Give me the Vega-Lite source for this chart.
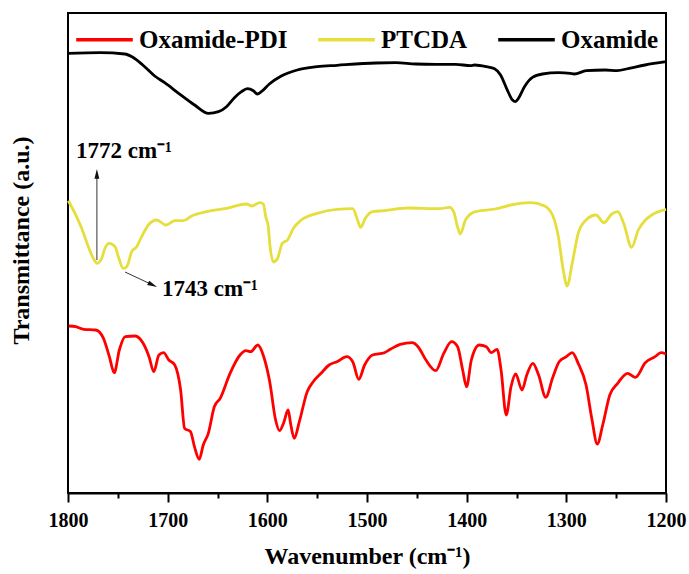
{
  "$schema": "https://vega.github.io/schema/vega-lite/v6.json",
  "width": 598,
  "height": 480,
  "autosize": {"type": "none"},
  "padding": {"left": 68, "top": 13, "right": 23, "bottom": 81},
  "config": {
    "view": {"stroke": "black", "strokeWidth": 2},
    "font": "Liberation Serif"
  },
  "datasets": {
    "spectra": [
      {"series": "Oxamide", "wn": 1800, "t": 439.7},
      {"series": "Oxamide", "wn": 1768, "t": 440.3},
      {"series": "Oxamide", "wn": 1743, "t": 439},
      {"series": "Oxamide", "wn": 1735, "t": 435.7},
      {"series": "Oxamide", "wn": 1725, "t": 428},
      {"series": "Oxamide", "wn": 1713, "t": 417},
      {"series": "Oxamide", "wn": 1703, "t": 410.3},
      {"series": "Oxamide", "wn": 1689, "t": 399.7},
      {"series": "Oxamide", "wn": 1673, "t": 388},
      {"series": "Oxamide", "wn": 1659, "t": 379.7},
      {"series": "Oxamide", "wn": 1649, "t": 381.3},
      {"series": "Oxamide", "wn": 1641, "t": 386.3},
      {"series": "Oxamide", "wn": 1633, "t": 395.3},
      {"series": "Oxamide", "wn": 1626, "t": 401.3},
      {"series": "Oxamide", "wn": 1620, "t": 404.3},
      {"series": "Oxamide", "wn": 1614, "t": 402.3},
      {"series": "Oxamide", "wn": 1610, "t": 399},
      {"series": "Oxamide", "wn": 1606, "t": 401.3},
      {"series": "Oxamide", "wn": 1598, "t": 409},
      {"series": "Oxamide", "wn": 1586, "t": 417},
      {"series": "Oxamide", "wn": 1570, "t": 423},
      {"series": "Oxamide", "wn": 1550, "t": 426.3},
      {"series": "Oxamide", "wn": 1530, "t": 427.7},
      {"series": "Oxamide", "wn": 1491, "t": 430},
      {"series": "Oxamide", "wn": 1471, "t": 430.3},
      {"series": "Oxamide", "wn": 1451, "t": 429},
      {"series": "Oxamide", "wn": 1431, "t": 428.7},
      {"series": "Oxamide", "wn": 1411, "t": 428.7},
      {"series": "Oxamide", "wn": 1396, "t": 427.3},
      {"series": "Oxamide", "wn": 1392, "t": 428},
      {"series": "Oxamide", "wn": 1380, "t": 426.3},
      {"series": "Oxamide", "wn": 1372, "t": 424.3},
      {"series": "Oxamide", "wn": 1366, "t": 418},
      {"series": "Oxamide", "wn": 1360, "t": 404.7},
      {"series": "Oxamide", "wn": 1354, "t": 393},
      {"series": "Oxamide", "wn": 1351, "t": 391.3},
      {"series": "Oxamide", "wn": 1348, "t": 394.7},
      {"series": "Oxamide", "wn": 1342, "t": 406.3},
      {"series": "Oxamide", "wn": 1334, "t": 415.7},
      {"series": "Oxamide", "wn": 1324, "t": 419},
      {"series": "Oxamide", "wn": 1308, "t": 420.3},
      {"series": "Oxamide", "wn": 1296, "t": 419.7},
      {"series": "Oxamide", "wn": 1292, "t": 419},
      {"series": "Oxamide", "wn": 1280, "t": 422.3},
      {"series": "Oxamide", "wn": 1261, "t": 423},
      {"series": "Oxamide", "wn": 1249, "t": 422.3},
      {"series": "Oxamide", "wn": 1237, "t": 424.7},
      {"series": "Oxamide", "wn": 1221, "t": 428},
      {"series": "Oxamide", "wn": 1200, "t": 431.3},

      {"series": "PTCDA", "wn": 1799.7, "t": 292.3},
      {"series": "PTCDA", "wn": 1793, "t": 279.7},
      {"series": "PTCDA", "wn": 1786.3, "t": 264.7},
      {"series": "PTCDA", "wn": 1779.6, "t": 246.3},
      {"series": "PTCDA", "wn": 1774.6, "t": 234.7},
      {"series": "PTCDA", "wn": 1770.6, "t": 229.7},
      {"series": "PTCDA", "wn": 1766.2, "t": 234.7},
      {"series": "PTCDA", "wn": 1762.9, "t": 244.7},
      {"series": "PTCDA", "wn": 1758.6, "t": 249.7},
      {"series": "PTCDA", "wn": 1752.8, "t": 246.3},
      {"series": "PTCDA", "wn": 1749.5, "t": 236.3},
      {"series": "PTCDA", "wn": 1744.5, "t": 224.7},
      {"series": "PTCDA", "wn": 1741.1, "t": 226.3},
      {"series": "PTCDA", "wn": 1736.1, "t": 241.3},
      {"series": "PTCDA", "wn": 1731.1, "t": 246.3},
      {"series": "PTCDA", "wn": 1726.1, "t": 256.3},
      {"series": "PTCDA", "wn": 1719.4, "t": 268},
      {"series": "PTCDA", "wn": 1711, "t": 273},
      {"series": "PTCDA", "wn": 1701.7, "t": 268},
      {"series": "PTCDA", "wn": 1692.6, "t": 272.3},
      {"series": "PTCDA", "wn": 1684.3, "t": 272.3},
      {"series": "PTCDA", "wn": 1675.9, "t": 277},
      {"series": "PTCDA", "wn": 1660.8, "t": 281.3},
      {"series": "PTCDA", "wn": 1640.8, "t": 284.7},
      {"series": "PTCDA", "wn": 1620.7, "t": 289},
      {"series": "PTCDA", "wn": 1615.7, "t": 287},
      {"series": "PTCDA", "wn": 1607.4, "t": 290.3},
      {"series": "PTCDA", "wn": 1604, "t": 289},
      {"series": "PTCDA", "wn": 1601.6, "t": 276.3},
      {"series": "PTCDA", "wn": 1599, "t": 266.3},
      {"series": "PTCDA", "wn": 1597.6, "t": 249.7},
      {"series": "PTCDA", "wn": 1593.8, "t": 231},
      {"series": "PTCDA", "wn": 1589.7, "t": 234.7},
      {"series": "PTCDA", "wn": 1585, "t": 249.7},
      {"series": "PTCDA", "wn": 1579.8, "t": 253},
      {"series": "PTCDA", "wn": 1573.8, "t": 264.7},
      {"series": "PTCDA", "wn": 1565.9, "t": 273},
      {"series": "PTCDA", "wn": 1550.1, "t": 279.7},
      {"series": "PTCDA", "wn": 1530.2, "t": 283.7},
      {"series": "PTCDA", "wn": 1514.3, "t": 284.3},
      {"series": "PTCDA", "wn": 1509.5, "t": 273},
      {"series": "PTCDA", "wn": 1506.4, "t": 265.7},
      {"series": "PTCDA", "wn": 1501.6, "t": 274.7},
      {"series": "PTCDA", "wn": 1494.5, "t": 281.3},
      {"series": "PTCDA", "wn": 1482.5, "t": 282.3},
      {"series": "PTCDA", "wn": 1458.8, "t": 285},
      {"series": "PTCDA", "wn": 1427, "t": 284.3},
      {"series": "PTCDA", "wn": 1417.1, "t": 285.7},
      {"series": "PTCDA", "wn": 1413.1, "t": 281.3},
      {"series": "PTCDA", "wn": 1409.2, "t": 266.3},
      {"series": "PTCDA", "wn": 1406.4, "t": 259},
      {"series": "PTCDA", "wn": 1401.2, "t": 273},
      {"series": "PTCDA", "wn": 1391.3, "t": 281.3},
      {"series": "PTCDA", "wn": 1371.5, "t": 284},
      {"series": "PTCDA", "wn": 1355.5, "t": 288},
      {"series": "PTCDA", "wn": 1335.8, "t": 290.3},
      {"series": "PTCDA", "wn": 1321.8, "t": 287},
      {"series": "PTCDA", "wn": 1313.9, "t": 278},
      {"series": "PTCDA", "wn": 1308, "t": 256.3},
      {"series": "PTCDA", "wn": 1303.1, "t": 223},
      {"series": "PTCDA", "wn": 1299.2, "t": 207},
      {"series": "PTCDA", "wn": 1294.1, "t": 229.7},
      {"series": "PTCDA", "wn": 1288.1, "t": 259.7},
      {"series": "PTCDA", "wn": 1280.2, "t": 273},
      {"series": "PTCDA", "wn": 1270.2, "t": 278},
      {"series": "PTCDA", "wn": 1262.3, "t": 270.3},
      {"series": "PTCDA", "wn": 1254.4, "t": 279},
      {"series": "PTCDA", "wn": 1248.5, "t": 281.3},
      {"series": "PTCDA", "wn": 1242.5, "t": 269.7},
      {"series": "PTCDA", "wn": 1234.5, "t": 245.7},
      {"series": "PTCDA", "wn": 1227.8, "t": 263},
      {"series": "PTCDA", "wn": 1220.7, "t": 273},
      {"series": "PTCDA", "wn": 1212.7, "t": 279},
      {"series": "PTCDA", "wn": 1200, "t": 283.7},

      {"series": "Oxamide-PDI", "wn": 1799.3, "t": 167},
      {"series": "Oxamide-PDI", "wn": 1792.2, "t": 166.3},
      {"series": "Oxamide-PDI", "wn": 1784.2, "t": 163.7},
      {"series": "Oxamide-PDI", "wn": 1772.3, "t": 163},
      {"series": "Oxamide-PDI", "wn": 1764.4, "t": 154.7},
      {"series": "Oxamide-PDI", "wn": 1758.5, "t": 136.3},
      {"series": "Oxamide-PDI", "wn": 1753.6, "t": 120.3},
      {"series": "Oxamide-PDI", "wn": 1748.5, "t": 143},
      {"series": "Oxamide-PDI", "wn": 1742.5, "t": 156.3},
      {"series": "Oxamide-PDI", "wn": 1732.6, "t": 157},
      {"series": "Oxamide-PDI", "wn": 1724.6, "t": 149.7},
      {"series": "Oxamide-PDI", "wn": 1718.7, "t": 136.3},
      {"series": "Oxamide-PDI", "wn": 1713.9, "t": 121.3},
      {"series": "Oxamide-PDI", "wn": 1708.8, "t": 138},
      {"series": "Oxamide-PDI", "wn": 1704.1, "t": 140.3},
      {"series": "Oxamide-PDI", "wn": 1698.9, "t": 133},
      {"series": "Oxamide-PDI", "wn": 1692.9, "t": 128},
      {"series": "Oxamide-PDI", "wn": 1687, "t": 103},
      {"series": "Oxamide-PDI", "wn": 1683, "t": 64.7},
      {"series": "Oxamide-PDI", "wn": 1677.1, "t": 61.3},
      {"series": "Oxamide-PDI", "wn": 1673.1, "t": 46.3},
      {"series": "Oxamide-PDI", "wn": 1668.4, "t": 33.7},
      {"series": "Oxamide-PDI", "wn": 1664.3, "t": 48},
      {"series": "Oxamide-PDI", "wn": 1659.2, "t": 59.7},
      {"series": "Oxamide-PDI", "wn": 1653.2, "t": 86.3},
      {"series": "Oxamide-PDI", "wn": 1647.3, "t": 94.7},
      {"series": "Oxamide-PDI", "wn": 1637.4, "t": 119.7},
      {"series": "Oxamide-PDI", "wn": 1627.4, "t": 138},
      {"series": "Oxamide-PDI", "wn": 1621.5, "t": 142.3},
      {"series": "Oxamide-PDI", "wn": 1616.7, "t": 141.3},
      {"series": "Oxamide-PDI", "wn": 1609.6, "t": 148},
      {"series": "Oxamide-PDI", "wn": 1603.6, "t": 136.3},
      {"series": "Oxamide-PDI", "wn": 1597.6, "t": 111.3},
      {"series": "Oxamide-PDI", "wn": 1591.7, "t": 73},
      {"series": "Oxamide-PDI", "wn": 1587.8, "t": 62.3},
      {"series": "Oxamide-PDI", "wn": 1583.8, "t": 69.7},
      {"series": "Oxamide-PDI", "wn": 1579.1, "t": 83},
      {"series": "Oxamide-PDI", "wn": 1576.7, "t": 69.7},
      {"series": "Oxamide-PDI", "wn": 1573, "t": 54.7},
      {"series": "Oxamide-PDI", "wn": 1567.9, "t": 71.3},
      {"series": "Oxamide-PDI", "wn": 1560, "t": 101.3},
      {"series": "Oxamide-PDI", "wn": 1554, "t": 111.3},
      {"series": "Oxamide-PDI", "wn": 1546.1, "t": 119.7},
      {"series": "Oxamide-PDI", "wn": 1538.1, "t": 128},
      {"series": "Oxamide-PDI", "wn": 1530.2, "t": 131.3},
      {"series": "Oxamide-PDI", "wn": 1520.3, "t": 136.3},
      {"series": "Oxamide-PDI", "wn": 1514.3, "t": 131.3},
      {"series": "Oxamide-PDI", "wn": 1508.3, "t": 113.7},
      {"series": "Oxamide-PDI", "wn": 1502.4, "t": 128},
      {"series": "Oxamide-PDI", "wn": 1494.5, "t": 138},
      {"series": "Oxamide-PDI", "wn": 1482.5, "t": 140.3},
      {"series": "Oxamide-PDI", "wn": 1476.6, "t": 143.7},
      {"series": "Oxamide-PDI", "wn": 1466.7, "t": 148.7},
      {"series": "Oxamide-PDI", "wn": 1454.7, "t": 150.3},
      {"series": "Oxamide-PDI", "wn": 1448.8, "t": 146.3},
      {"series": "Oxamide-PDI", "wn": 1440.9, "t": 133},
      {"series": "Oxamide-PDI", "wn": 1431, "t": 122.3},
      {"series": "Oxamide-PDI", "wn": 1423, "t": 139.7},
      {"series": "Oxamide-PDI", "wn": 1415.1, "t": 151.3},
      {"series": "Oxamide-PDI", "wn": 1409.1, "t": 146.3},
      {"series": "Oxamide-PDI", "wn": 1404, "t": 123},
      {"series": "Oxamide-PDI", "wn": 1400.1, "t": 106.3},
      {"series": "Oxamide-PDI", "wn": 1395.3, "t": 133},
      {"series": "Oxamide-PDI", "wn": 1387.3, "t": 148},
      {"series": "Oxamide-PDI", "wn": 1380.2, "t": 146.3},
      {"series": "Oxamide-PDI", "wn": 1375.4, "t": 140.3},
      {"series": "Oxamide-PDI", "wn": 1369.5, "t": 143.7},
      {"series": "Oxamide-PDI", "wn": 1365.5, "t": 123},
      {"series": "Oxamide-PDI", "wn": 1360.3, "t": 78},
      {"series": "Oxamide-PDI", "wn": 1355.5, "t": 106.3},
      {"series": "Oxamide-PDI", "wn": 1350.8, "t": 119},
      {"series": "Oxamide-PDI", "wn": 1344.5, "t": 103},
      {"series": "Oxamide-PDI", "wn": 1339.7, "t": 118},
      {"series": "Oxamide-PDI", "wn": 1333.6, "t": 129.7},
      {"series": "Oxamide-PDI", "wn": 1327.8, "t": 118},
      {"series": "Oxamide-PDI", "wn": 1320.6, "t": 95.7},
      {"series": "Oxamide-PDI", "wn": 1313.9, "t": 114.7},
      {"series": "Oxamide-PDI", "wn": 1307.2, "t": 131.3},
      {"series": "Oxamide-PDI", "wn": 1300, "t": 136.3},
      {"series": "Oxamide-PDI", "wn": 1294.1, "t": 140.3},
      {"series": "Oxamide-PDI", "wn": 1288.1, "t": 129.7},
      {"series": "Oxamide-PDI", "wn": 1280.2, "t": 108},
      {"series": "Oxamide-PDI", "wn": 1274.2, "t": 73},
      {"series": "Oxamide-PDI", "wn": 1269, "t": 49},
      {"series": "Oxamide-PDI", "wn": 1263.5, "t": 68},
      {"series": "Oxamide-PDI", "wn": 1256.4, "t": 98},
      {"series": "Oxamide-PDI", "wn": 1248.5, "t": 109.7},
      {"series": "Oxamide-PDI", "wn": 1238.6, "t": 119.7},
      {"series": "Oxamide-PDI", "wn": 1230.7, "t": 115.7},
      {"series": "Oxamide-PDI", "wn": 1220.8, "t": 130.3},
      {"series": "Oxamide-PDI", "wn": 1210.9, "t": 136.3},
      {"series": "Oxamide-PDI", "wn": 1205, "t": 140.3},
      {"series": "Oxamide-PDI", "wn": 1200, "t": 139}
    ],
    "labels": [
      {"wn": 1792, "t": 335, "label": "1772 cm⁻¹"},
      {"wn": 1705.7, "t": 197, "label": "1743 cm⁻¹"}
    ],
    "arrows": [
      {"wn": 1771, "t": 233, "wn2": 1771, "t2": 318},
      {"wn": 1742.8, "t": 221, "wn2": 1716.2, "t2": 208.6}
    ],
    "heads": [
      {"wn": 1771, "t": 318, "angle": 0},
      {"wn": 1716.2, "t": 208.6, "angle": 115}
    ]
  },
  "layer": [
    {
      "data": {"name": "spectra"},
      "mark": {"type": "line", "interpolate": "monotone", "strokeWidth": 2.8},
      "encoding": {
        "x": {
          "field": "wn", "type": "quantitative",
          "scale": {"domain": [1200, 1800], "reverse": true, "nice": false, "zero": false},
          "axis": {
            "values": [1800, 1750, 1700, 1650, 1600, 1550, 1500, 1450, 1400, 1350, 1300, 1250, 1200],
            "format": "d",
            "labelExpr": "datum.value % 100 === 0 ? datum.label : ''",
            "tickSize": {"condition": {"test": "datum.value % 100 === 0", "value": 9}, "value": 5},
            "tickColor": "black", "tickWidth": 2,
            "domainColor": "black", "domainWidth": 2,
            "grid": false,
            "labelFlush": false, "labelOverlap": false, "labelBound": false,
            "labelFont": "Liberation Serif", "labelFontWeight": "bold", "labelFontSize": 20,
            "labelColor": "black", "labelPadding": 8,
            "title": "Wavenumber (cm⁻¹)",
            "titleFont": "Liberation Serif", "titleFontWeight": "bold", "titleFontSize": 24,
            "titleColor": "black", "titlePadding": 14
          }
        },
        "y": {
          "field": "t", "type": "quantitative",
          "scale": {"domain": [0, 480], "nice": false, "zero": false},
          "axis": {
            "domain": false, "ticks": false, "labels": false, "grid": false,
            "title": "Transmittance (a.u.)",
            "titleFont": "Liberation Serif", "titleFontWeight": "bold", "titleFontSize": 24,
            "titleColor": "black", "titleAngle": -90, "titleAlign": "center",
            "titleBaseline": "alphabetic", "titleX": -40, "titleY": 227
          }
        },
        "color": {
          "field": "series", "type": "nominal",
          "scale": {"domain": ["Oxamide-PDI", "PTCDA", "Oxamide"], "range": ["#ff0000", "#e5de3c", "#000000"]},
          "legend": {
            "title": null, "orient": "none", "legendX": 6, "legendY": -4,
            "direction": "horizontal", "symbolType": "stroke", "symbolSize": 3200,
            "symbolStrokeWidth": 3.5, "labelFont": "Liberation Serif", "labelFontWeight": "bold",
            "labelFontSize": 25, "labelColor": "black", "labelOffset": 4, "columnPadding": 23,
            "padding": 0
          }
        }
      }
    },
    {
      "data": {"name": "arrows"},
      "mark": {"type": "rule", "color": "#333333", "strokeWidth": 1},
      "encoding": {
        "x": {"field": "wn", "type": "quantitative"},
        "y": {"field": "t", "type": "quantitative"},
        "x2": {"field": "wn2"},
        "y2": {"field": "t2"}
      }
    },
    {
      "data": {"name": "heads"},
      "mark": {"type": "point", "shape": "M0,-1L0.4,0.6L-0.4,0.6Z", "filled": true, "color": "#111111", "size": 150, "opacity": 1},
      "encoding": {
        "x": {"field": "wn", "type": "quantitative"},
        "y": {"field": "t", "type": "quantitative"},
        "angle": {"field": "angle", "type": "quantitative", "scale": null}
      }
    },
    {
      "data": {"name": "labels"},
      "mark": {"type": "text", "align": "left", "baseline": "alphabetic", "font": "Liberation Serif", "fontWeight": "bold", "fontSize": 23, "color": "black"},
      "encoding": {
        "x": {"field": "wn", "type": "quantitative"},
        "y": {"field": "t", "type": "quantitative"},
        "text": {"field": "label"}
      }
    }
  ]
}
